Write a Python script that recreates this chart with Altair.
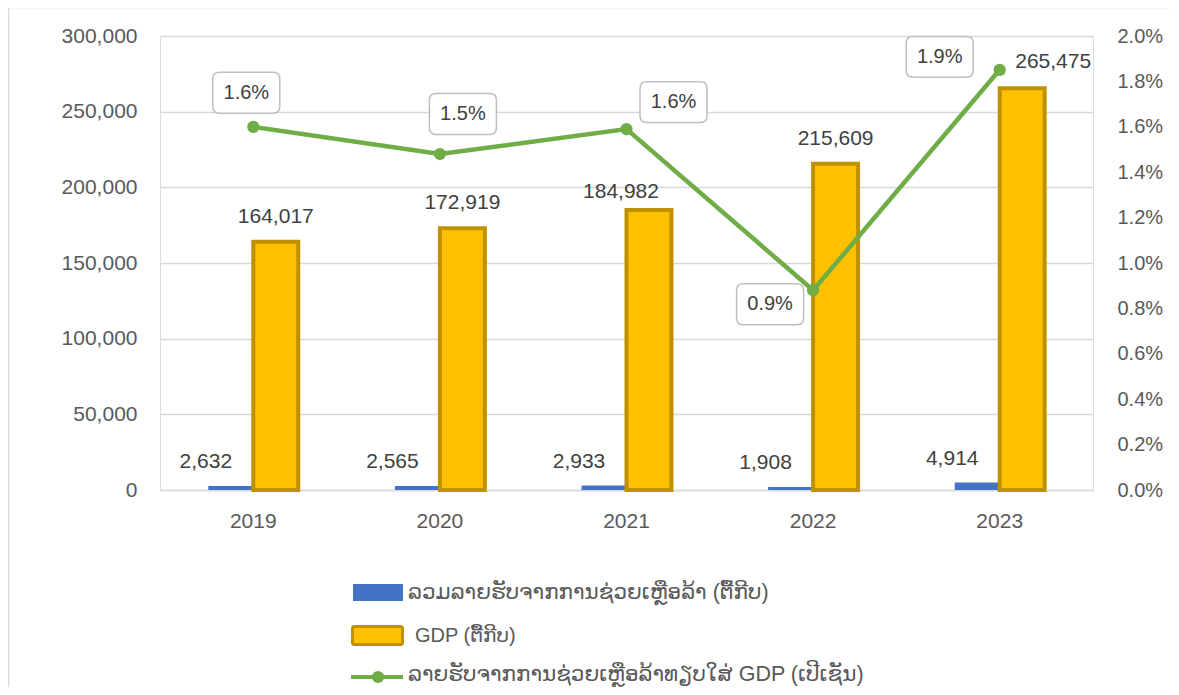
import altair as alt
import pandas as pd

# ---- data ----
years = ["2019", "2020", "2021", "2022", "2023"]
aid = [2632, 2565, 2933, 1908, 4914]                 # ລວມລາຍຮັບຈາກການຊ່ວຍເຫຼືອລ້າ (ຕື້ກີບ)
gdp = [164017, 172919, 184982, 215609, 265475]       # GDP (ຕື້ກີບ)
ratio = [0.0160, 0.0148, 0.0159, 0.0088, 0.01851]    # ratio to GDP
legend_labels = [
    "ລວມລາຍຮັບຈາກການຊ່ວຍເຫຼືອລ້າ (ຕື້ກີບ)",
    "GDP (ຕື້ກີບ)",
    "ລາຍຮັບຈາກການຊ່ວຍເຫຼືອລ້າທຽບໃສ່ GDP (ເປີເຊັນ)",
]
left_ticks = [0, 50000, 100000, 150000, 200000, 250000, 300000]
right_ticks = [0, 0.002, 0.004, 0.006, 0.008, 0.010, 0.012, 0.014, 0.016, 0.018, 0.020]

# label nudges (pixels) as placed in the reference
ratio_dx = [-7, 23, 47, -43, -60]
ratio_dy = [-34, -40, -27, 14, -13]
gdp_dx = [0, 0, -28, 0, 31]
gdp_dy = [-25, -25, -18, -25, -26]

FONT = "Liberation Sans, DejaVu Sans, sans-serif"
AXIS_GREY = "#595959"
LABEL_GREY = "#404040"
GRID = "#D9D9D9"

aid_df = pd.DataFrame({"year": years, "series": "aid", "value": aid})
gdp_df = pd.DataFrame({"year": years, "series": "gdp", "value": gdp})
ratio_df = pd.DataFrame({"year": years, "ratio": ratio})

x_enc = alt.X(
    "year:N",
    scale=alt.Scale(paddingInner=0.518, paddingOuter=0.259),
    axis=alt.Axis(title=None, labelAngle=0, domain=True, domainColor=GRID, domainWidth=1.5,
                  ticks=False, tickSize=0, labelPadding=20, labelFontSize=21,
                  labelColor=AXIS_GREY, labelFont=FONT),
)
xoff_enc = alt.XOffset("series:N", scale=alt.Scale(domain=["aid", "gdp"], paddingInner=0, paddingOuter=0))

left_axis = alt.Axis(title=None, values=left_ticks, format=",d", grid=True, gridColor=GRID,
                     gridWidth=1.5, domain=False, ticks=False, tickSize=0, labelPadding=23,
                     labelFontSize=21, labelColor=AXIS_GREY, labelFont=FONT)
y_left = alt.Y("value:Q", scale=alt.Scale(domain=[0, 300000], nice=False), axis=left_axis)

right_axis = alt.Axis(title=None, orient="right", values=right_ticks, format=".1%", grid=False,
                      domain=False, ticks=False, tickSize=0, labelPadding=24,
                      labelFontSize=20, labelColor=AXIS_GREY, labelFont=FONT)
y_right = alt.Y("ratio:Q", scale=alt.Scale(domain=[0, 0.02], nice=False), axis=right_axis)

# ---- bars ----
aid_bars = alt.Chart(aid_df).mark_bar(color="#4472C4").encode(x=x_enc, xOffset=xoff_enc, y=y_left)
gdp_bars = alt.Chart(gdp_df).mark_bar(fill="#FFC000", stroke="#BF9000", strokeWidth=4).encode(
    x=x_enc, xOffset=xoff_enc, y=y_left)

aid_text = alt.Chart(aid_df).mark_text(
    dx=-25, dy=-24, fontSize=21, color=LABEL_GREY, font=FONT, baseline="middle"
).encode(x=x_enc, xOffset=xoff_enc, y=y_left, text=alt.Text("value:Q", format=","))

gdp_texts = []
for i, yr in enumerate(years):
    gdp_texts.append(
        alt.Chart(gdp_df[gdp_df["year"] == yr]).mark_text(
            dx=gdp_dx[i], dy=gdp_dy[i], fontSize=21, color=LABEL_GREY, font=FONT, baseline="middle"
        ).encode(x=x_enc, xOffset=xoff_enc, y=y_left, text=alt.Text("value:Q", format=","))
    )

# ---- legend (custom, below the plot) ----
leg_aid = alt.Chart(aid_df.head(1)).mark_rect(color="#4472C4").encode(
    x=alt.value(193), x2=alt.value(243), y=alt.value(548), y2=alt.value(565))
leg_gdp = alt.Chart(aid_df.head(1)).mark_rect(
    fill="#FFC000", stroke="#BF9000", strokeWidth=3, cornerRadius=2).encode(
    x=alt.value(192.5), x2=alt.value(242.5), y=alt.value(590.5), y2=alt.value(608.5))
leg_line = alt.Chart(aid_df.head(1)).mark_rule(color="#70AD47", strokeWidth=4).encode(
    x=alt.value(191), x2=alt.value(243), y=alt.value(641))
leg_dot = alt.Chart(aid_df.head(1)).mark_point(
    filled=True, color="#70AD47", size=150, opacity=1).encode(x=alt.value(218), y=alt.value(641))
leg_texts = []
for lab, lx, ly, fs in zip(legend_labels, [248, 255, 248], [557, 600, 639], [21.5, 20, 21.5]):
    leg_texts.append(
        alt.Chart(aid_df.head(1)).mark_text(
            text=lab, align="left", baseline="middle", fontSize=fs, color=AXIS_GREY, font=FONT
        ).encode(x=alt.value(lx), y=alt.value(ly))
    )

border = alt.Chart(aid_df.head(1)).mark_rect(
    fill=None, stroke=GRID, strokeWidth=1.5).encode(
    x=alt.value(-151.5), x2=alt.value(1400), y=alt.value(-28.5), y2=alt.value(900))

left = alt.layer(border, aid_bars, gdp_bars, aid_text, *gdp_texts,
                 leg_aid, leg_gdp, leg_line, leg_dot, *leg_texts)

# ---- ratio line, points and boxed labels ----
line = alt.Chart(ratio_df).mark_line(color="#70AD47", strokeWidth=4.5).encode(x=x_enc, y=y_right)
pts = alt.Chart(ratio_df).mark_point(filled=True, color="#70AD47", size=150, opacity=1).encode(
    x=x_enc, y=y_right)

box_path = ("M -0.8,-0.61 L 0.8,-0.61 Q 1,-0.61 1,-0.41 L 1,0.41 Q 1,0.61 0.8,0.61 "
            "L -0.8,0.61 Q -1,0.61 -1,0.41 L -1,-0.41 Q -1,-0.61 -0.8,-0.61 Z")
boxes = []
for i, yr in enumerate(years):
    sub = ratio_df[ratio_df["year"] == yr]
    boxes.append(
        alt.Chart(sub).mark_point(
            shape=box_path, size=4489, filled=True, fill="white", stroke="#BFBFBF",
            strokeWidth=1.5, fillOpacity=1, strokeOpacity=1, xOffset=ratio_dx[i], yOffset=ratio_dy[i]
        ).encode(x=x_enc, y=y_right)
    )
    boxes.append(
        alt.Chart(sub).mark_text(
            dx=ratio_dx[i], dy=ratio_dy[i], fontSize=20, color=LABEL_GREY, font=FONT, baseline="middle"
        ).encode(x=x_enc, y=y_right, text=alt.Text("ratio:Q", format=".1%"))
    )

right = alt.layer(line, pts, *boxes)

chart = alt.layer(left, right).resolve_scale(y="independent").properties(
    width=933, height=454,
    autosize=alt.AutoSizeParams(type="none"),
    padding={"left": 152, "top": 28, "right": 78, "bottom": 197},
).configure_view(stroke=None).configure(background="white")

chart.save("out.html", embed_options={"renderer": "svg", "actions": False})
